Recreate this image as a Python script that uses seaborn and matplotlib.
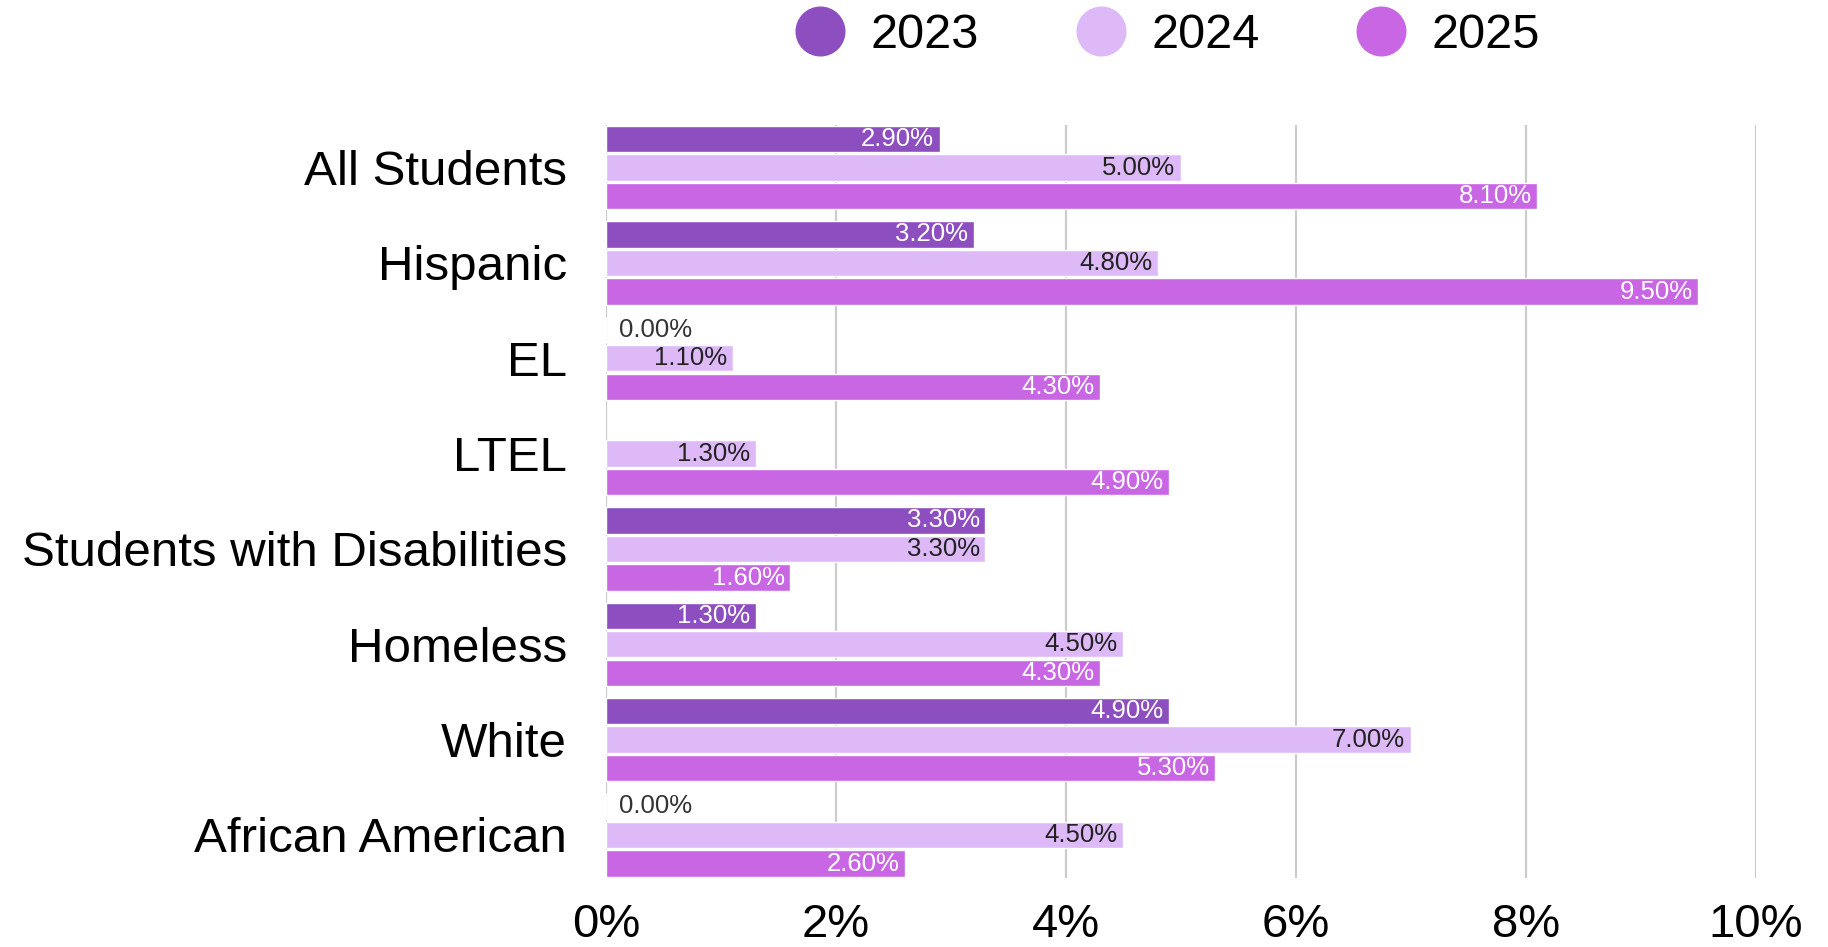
import numpy as np
import pandas as pd
import matplotlib
matplotlib.use("Agg")
import matplotlib.pyplot as plt
from matplotlib.lines import Line2D
import seaborn as sns

categories = ["All Students", "Hispanic", "EL", "LTEL", "Students with Disabilities",
              "Homeless", "White", "African American"]
years = ["2023", "2024", "2025"]
v2023 = [2.9, 3.2, 0.0, np.nan, 3.3, 1.3, 4.9, 0.0]
v2024 = [5.0, 4.8, 1.1, 1.3, 3.3, 4.5, 7.0, 4.5]
v2025 = [8.1, 9.5, 4.3, 4.9, 1.6, 4.3, 5.3, 2.6]
xticks = [0, 2, 4, 6, 8, 10]
xtick_labels = ["0%", "2%", "4%", "6%", "8%", "10%"]

colors = {"2023": "#8D4FC0", "2024": "#DEB9F8", "2025": "#C966E4"}
label_colors = {"2023": "white", "2024": "#222222", "2025": "white"}

rows = []
for y, vals in zip(years, [v2023, v2024, v2025]):
    for c, v in zip(categories, vals):
        rows.append({"group": c, "year": y, "value": v})
df = pd.DataFrame(rows)

sns.set_style("white")
plt.rcParams["font.family"] = ["Liberation Sans", "DejaVu Sans"]
plt.rcParams["text.color"] = "black"

fig = plt.figure(figsize=(18.28, 9.47), dpi=100)
ax = fig.add_axes([0.3316, 0.0730, 0.6288, 0.7953])

sns.barplot(data=df, y="group", x="value", hue="year", order=categories,
            hue_order=years, palette=colors, orient="h", width=0.9, gap=0.08,
            ax=ax, legend=False, errorbar=None, saturation=1)

ax.set_xlim(0, 10)
ax.set_ylim(len(categories) - 1 + 0.45, -0.45)
ax.set_xticks(xticks)
ax.set_xticklabels(xtick_labels)
ax.tick_params(axis="x", labelsize=34, length=0, pad=18, colors="black")
ax.tick_params(axis="y", labelsize=35.5, length=0, pad=28, colors="black")
ax.set_xlabel("")
ax.set_ylabel("")
for s in ax.spines.values():
    s.set_visible(False)
ax.grid(axis="x", color="#CCCCCC", linewidth=1.6)
ax.set_axisbelow(True)

for cont, y in zip(ax.containers, years):
    for bar in cont:
        w = bar.get_width()
        if np.isnan(w):
            continue
        yc = bar.get_y() + bar.get_height() / 2
        txt = f"{w:.2f}%"
        if w == 0:
            ax.annotate(txt, (0, yc), xytext=(9, 0), textcoords="offset points",
                        ha="left", va="center", fontsize=18.5, color="#333333")
        else:
            ax.annotate(txt, (w, yc), xytext=(-4, 0), textcoords="offset points",
                        ha="right", va="center", fontsize=18.5, color=label_colors[y])

handles = [Line2D([0], [0], marker="o", linestyle="none", markersize=35,
                  markerfacecolor=colors[y], markeredgecolor=colors[y]) for y in years]
fig.legend(handles, years, loc="center", bbox_to_anchor=(0.639, 0.963), ncol=3,
           frameon=False, fontsize=35, handlelength=1.0, handletextpad=0.54,
           columnspacing=2.0, labelcolor="black")

fig.savefig("out.png", dpi=100, facecolor="white")
